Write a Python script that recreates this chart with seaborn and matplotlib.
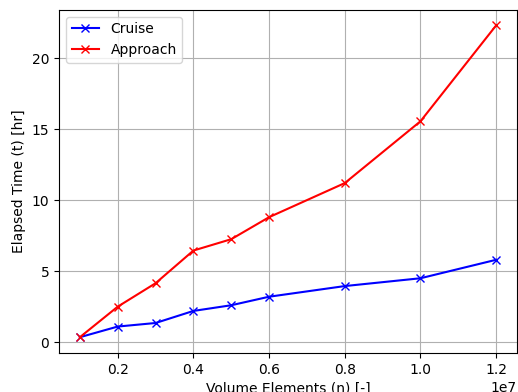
import matplotlib
matplotlib.use("Agg")
import matplotlib.pyplot as plt
import seaborn as sns
import pandas as pd

# Mesh size (volume elements) and measured wall-clock times
volume_elements = [1e6, 2e6, 3e6, 4e6, 5e6, 6e6, 8e6, 10e6, 12e6]
cruise_hours = [0.35, 1.1, 1.35, 2.2, 2.6, 3.2, 3.95, 4.5, 5.8]
approach_hours = [0.35, 2.5, 4.15, 6.45, 7.25, 8.8, 11.2, 15.55, 22.3]

df = pd.DataFrame({
    "n": volume_elements * 2,
    "t": cruise_hours + approach_hours,
    "case": ["Cruise"] * len(volume_elements) + ["Approach"] * len(volume_elements),
})

fig, ax = plt.subplots(figsize=(5.18, 3.92), dpi=100)
sns.lineplot(data=df, x="n", y="t", hue="case", palette={"Cruise": "blue", "Approach": "red"},
             marker="x", markersize=6, markeredgewidth=1.0, linewidth=1.5, ax=ax)
for line in ax.lines:
    line.set_markeredgecolor(line.get_color())

ax.set_xlabel("Volume Elements (n) [-]")
ax.set_ylabel("Elapsed Time (t) [hr]")
ax.grid(True)
ax.legend(loc="upper left")
fig.subplots_adjust(left=0.114, right=0.998, top=0.975, bottom=0.10)
fig.savefig("out.png", dpi=100)
